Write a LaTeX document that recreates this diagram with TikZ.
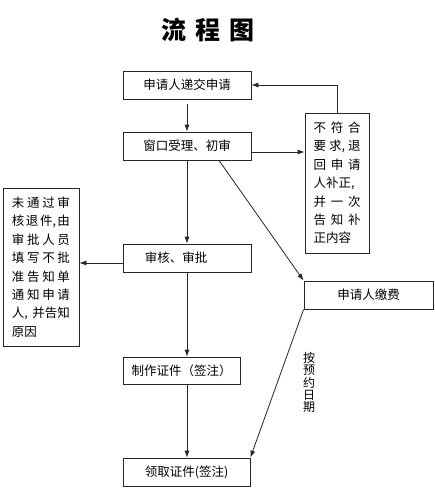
\documentclass[tikz,border=0pt]{standalone}
\usepackage{fontspec}
\newfontfamily\cjk{Noto Sans CJK SC}
\usetikzlibrary{arrows.meta,calc}
\newcommand{\hf}{\hfill{}}
\tikzset{
  box/.style={draw=black!85,line width=0.8pt,rectangle,inner sep=0pt,
    font=\cjk\fontsize{12.5pt}{15pt}\selectfont},
  conn/.style={draw=black!85,line width=0.8pt},
  arr/.style={conn,-{Latex[length=7pt,width=5pt]}},
  note/.style={box,align=left,font=\cjk\fontsize{12.5pt}{18.4pt}\selectfont}
}
\begin{document}
\begin{tikzpicture}[x=1pt,y=-1pt]
\useasboundingbox[fill=white] (0,0) rectangle (435,490);
\node[font=\cjk\bfseries\fontsize{25pt}{28pt}\selectfont] (title) at (208,30) {流\hspace{9pt}程\hspace{9pt}图};
\node[box,minimum width=128pt,minimum height=28pt] (submit) at (187,85) {申请人递交申请};
\node[box,minimum width=128pt,minimum height=28pt] (accept) at (187,146) {窗口受理、初审};
\node[box,minimum width=128pt,minimum height=28pt] (audit) at (187,258) {\hspace{-22pt}审核、审批};
\node[box,minimum width=117pt,minimum height=27pt] (make) at (181.5,370.5) {制作证件（签注）};
\node[box,minimum width=127pt,minimum height=28pt] (get) at (186.5,472) {领取证件(签注)};
\node[box,minimum width=129pt,minimum height=28pt] (pay) at (368.5,295) {申请人缴费};
\node[note,minimum width=64pt,minimum height=140pt,text width=47pt] (ret) at (337,183) {%
\makebox[47pt][s]{不\hf 符\hf 合}\\%
\makebox[47pt][s]{要\hf 求,\hf 退}\\%
\makebox[47pt][s]{回\hf 申\hf 请}\\%
人补正,\\%
\makebox[47pt][s]{并\hf 一\hf 次}\\%
\makebox[47pt][s]{告\hf 知\hf 补}\\%
正内容};
\node[note,minimum width=76pt,minimum height=158pt,text width=58pt] (reject) at (41,267) {%
\makebox[58pt][s]{未\hf 通\hf 过\hf 审}\\%
\makebox[58pt][s]{核\hf 退\hf 件,\hf 由}\\%
\makebox[58pt][s]{审\hf 批\hf 人\hf 员}\\%
\makebox[58pt][s]{填\hf 写\hf 不\hf 批}\\%
\makebox[58pt][s]{准\hf 告\hf 知\hf 单}\\%
\makebox[58pt][s]{通\hf 知\hf 申\hf 请}\\%
\makebox[58pt][s]{人,\hf 并告知}\\%
原因};
\node[font=\cjk\fontsize{12pt}{12.2pt}\selectfont,align=center,inner sep=0pt] (date) at (309,382.5) {按\\预\\约\\日\\期};
% connectors
\draw[arr,shorten <=5pt] (submit.south) -- (accept.north);
\draw[arr] ([yshift=-6pt]accept.east) -- ([yshift=-6pt]accept.east -| ret.west);
\draw[arr] (ret.north) |- (submit.east);
\draw[arr] (accept.south) -- (audit.north);
\draw[arr] ([xshift=32pt]accept.south) -- (pay.north west);
\draw[arr] ([yshift=-5pt]audit.west) -- ([yshift=-5pt]audit.west -| reject.east);
\draw[arr] (audit.south) -- (audit.south |- make.north);
\draw[arr] (audit.south |- make.south) -- (audit.south |- get.north);
\draw[arr] (pay.south west) -- (get.north east);
\end{tikzpicture}
\end{document}
